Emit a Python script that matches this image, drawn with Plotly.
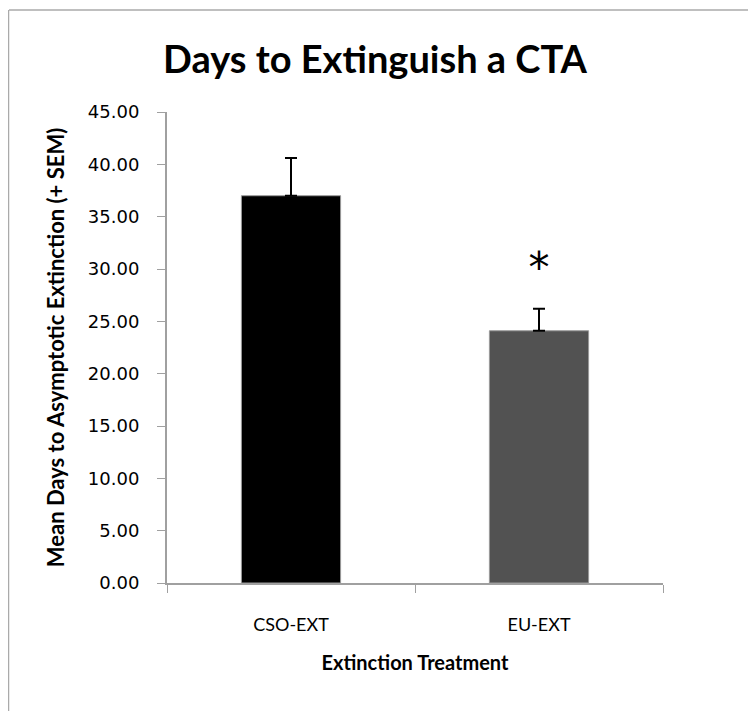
import plotly.graph_objects as go

categories = ["CSO-EXT", "EU-EXT"]
means = [37.0, 24.1]
sem = [3.6, 2.1]
bar_colors = ["#000000", "#525252"]
sig_marks = ["", "*"]
sig_y = [None, 29.8]
y_ticks = [0, 5, 10, 15, 20, 25, 30, 35, 40, 45]
y_tick_labels = [f"{v:.2f}" for v in y_ticks]

# page has an 8px body margin; figure sized to fit the 756x711 window
W, H = 748, 703
L, R, T, B = 159, 93, 104, 128
PW, PH = W - L - R, H - T - B

fig = go.Figure()
fig.add_trace(go.Bar(
    x=categories, y=means,
    marker=dict(color=bar_colors, line=dict(color="#9a9a9a", width=1)),
    width=0.4,
    error_y=dict(type="data", array=sem, arrayminus=[0, 0], symmetric=False,
                 color="#000000", thickness=2, width=6),
    showlegend=False,
))
fig.add_trace(go.Scatter(
    x=[c for c, s in zip(categories, sig_marks) if s],
    y=[y for y, s in zip(sig_y, sig_marks) if s],
    text=[s for s in sig_marks if s],
    mode="text",
    textfont=dict(family="DejaVu Sans", size=42, color="#000000"),
    showlegend=False,
))

fig.update_layout(
    width=W, height=H,
    margin=dict(l=L, r=R, t=T, b=B),
    paper_bgcolor="white", plot_bgcolor="white",
    title=dict(text="<b>Days to Extinguish a CTA</b>", x=(L + PW / 2 - 40) / W, xanchor="center",
               y=1 - 52 / H, yanchor="middle",
               font=dict(family="Lato", size=38, color="#000000")),
    xaxis=dict(
        showline=True, linecolor="#a0a0a0", linewidth=2,
        ticks="outside", tickson="boundaries", ticklen=8, tickcolor="#a0a0a0",
        ticklabelstandoff=24,
        tickfont=dict(family="Lato", size=18, color="#000000"),
        title=dict(text="<b>Extinction Treatment</b>", standoff=22,
                   font=dict(family="Lato", size=20, color="#000000")),
        showgrid=False, range=[-0.5, 1.5],
    ),
    yaxis=dict(
        range=[0, 45], tickvals=y_ticks, ticktext=y_tick_labels,
        showline=True, linecolor="#a0a0a0", linewidth=2,
        ticks="outside", ticklen=8, tickcolor="#a0a0a0",
        ticklabelstandoff=14,
        tickfont=dict(family="DejaVu Sans", size=18, color="#000000"),
        title=dict(text="<b>Mean Days to Asymptotic Extinction (+ SEM)</b>", standoff=17,
                   font=dict(family="Lato", size=22, color="#000000")),
        showgrid=False, zeroline=False,
    ),
    shapes=[
        dict(type="line", xref="paper", yref="paper",
             x0=(1 - L) / PW, x1=(W - L) / PW, y0=1 + (T - 2) / PH, y1=1 + (T - 2) / PH,
             line=dict(color="#aaaaaa", width=1.5)),
        dict(type="line", xref="paper", yref="paper",
             x0=(0.5 - L) / PW, x1=(0.5 - L) / PW,
             y0=-B / PH, y1=1 + (T - 2) / PH,
             line=dict(color="#aaaaaa", width=1.5)),
    ],
)

fig.write_html("out.html")
